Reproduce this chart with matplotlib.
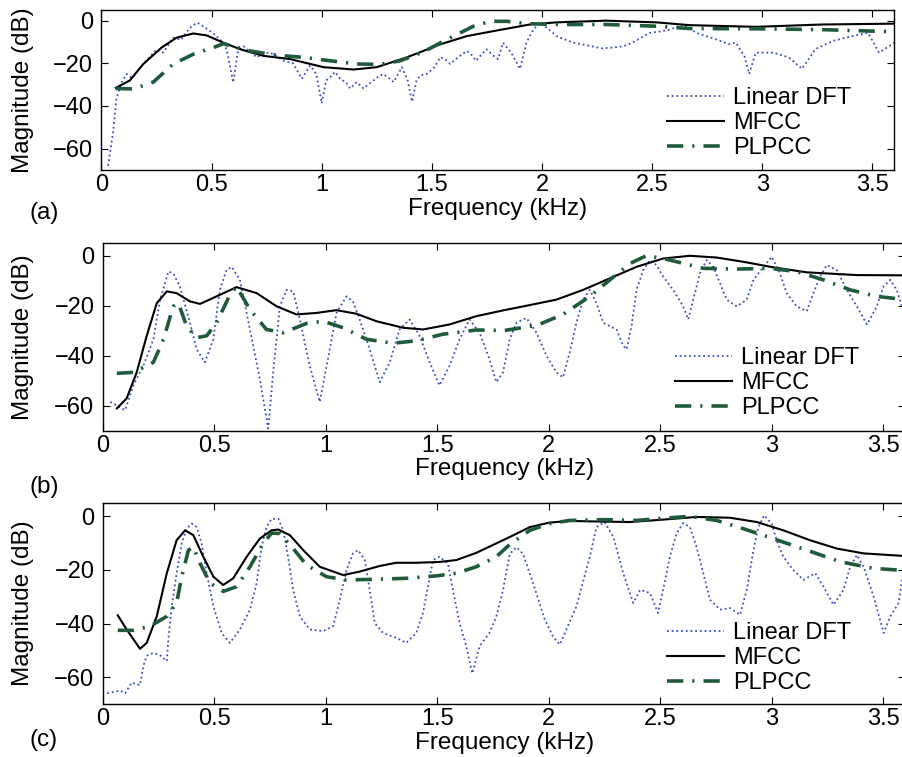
import matplotlib
matplotlib.use("Agg")
import matplotlib.pyplot as plt

plt.rcParams['font.family'] = ['Liberation Sans', 'DejaVu Sans']

# ---------------- Panel (a) ----------------
a_dft_f = [0.03, 0.053, 0.068, 0.09, 0.114, 0.14, 0.174, 0.21, 0.25, 0.28, 0.326, 0.36, 0.40, 0.432,
           0.447, 0.48, 0.508, 0.55, 0.568, 0.598, 0.62, 0.644, 0.68, 0.705, 0.735, 0.765, 0.80, 0.826,
           0.87, 0.909, 0.947, 0.975, 1.0, 1.02, 1.038, 1.06, 1.083, 1.11, 1.129, 1.159, 1.189, 1.21,
           1.235, 1.26, 1.28, 1.305, 1.326, 1.364, 1.39, 1.41, 1.43, 1.447, 1.477, 1.51, 1.538, 1.56,
           1.583, 1.62, 1.659, 1.68, 1.7, 1.747, 1.78, 1.8, 1.823, 1.86, 1.9, 1.93, 1.96, 1.99, 2.03,
           2.065, 2.14, 2.216, 2.27, 2.32, 2.37, 2.41, 2.45, 2.49, 2.54, 2.58, 2.64, 2.7, 2.79, 2.85,
           2.88, 2.92, 2.94, 2.97, 3.05, 3.12, 3.18, 3.24, 3.32, 3.41, 3.48, 3.53, 3.6]
a_dft_db = [-68, -52, -36.5, -29, -25, -27, -22, -18, -13.5, -15, -8, -9, -3.5, -1,
            -1.5, -4, -6, -10, -13.5, -29, -14, -12, -15, -17.2, -15.5, -15, -17, -18.8,
            -20, -27.2, -21, -25, -38.8, -28, -26.5, -24, -27.2, -29, -31.8, -28.8, -31.8, -30,
            -28, -26, -25, -27, -28.8, -21.8, -28, -38, -28, -25.7, -25, -22, -17.2, -18,
            -20.3, -17, -14.2, -16, -18.8, -13.4, -16.5, -18, -10.3, -15, -22.6, -10, -4.2, -1, -4,
            -7.2, -10.3, -11.8, -13, -12.6, -12, -10.3, -8, -5.7, -5, -4.2, -1.8, -5.7, -8.8, -11,
            -10.3, -17, -25, -15, -15, -17.2, -22.6, -13.4, -9.5, -7.2, -5.7, -15, -10.3]

a_mfcc_f = [0.065, 0.129, 0.19, 0.273, 0.34, 0.417, 0.477, 0.553, 0.63, 0.735, 0.856, 1.008, 1.144,
            1.25, 1.386, 1.538, 1.66, 1.80, 1.944, 2.065, 2.29, 2.52, 2.67, 2.97, 3.27, 3.6]
a_mfcc_db = [-31.5, -28, -20.3, -12.6, -8, -6, -6.9, -10.3, -13.4, -16.5, -18, -21.8, -22.9,
             -21.8, -17.2, -11.1, -7.2, -4.5, -1.8, -0.8, 0, -0.8, -2.1, -2.9, -1.8, -1.4]

a_plp_f = [0.065, 0.144, 0.235, 0.326, 0.417, 0.508, 0.553, 0.674, 0.795, 0.917, 1.038, 1.159, 1.265,
           1.356, 1.462, 1.568, 1.689, 1.765, 1.84, 1.93, 2.065, 2.29, 2.52, 2.67, 2.97, 3.27, 3.6]
a_plp_db = [-31.8, -32, -28.8, -20.3, -15.7, -12.6, -10.8, -14.2, -16.2, -17.2, -18.8, -20.3, -20.5,
            -18.8, -14.6, -8.8, -2.6, -0.3, -0.3, -1.4, -1.8, -1.8, -2.6, -3.7, -3.8, -4.2, -5.2]

# ---------------- Panel (b) ----------------
b_dft_f = [0.033, 0.1, 0.137, 0.182, 0.227, 0.257, 0.294, 0.316, 0.346, 0.391, 0.421, 0.458, 0.496,
           0.525, 0.555, 0.578, 0.615, 0.66, 0.704, 0.742, 0.764, 0.794, 0.824, 0.854, 0.884, 0.928,
           0.973, 1.018, 1.048, 1.093, 1.122, 1.152, 1.197, 1.242, 1.287, 1.331, 1.376, 1.421, 1.466,
           1.51, 1.555, 1.6, 1.645, 1.69, 1.734, 1.765, 1.795, 1.825, 1.855, 1.9, 1.945, 1.99, 2.034,
           2.064, 2.094, 2.124, 2.154, 2.184, 2.214, 2.244, 2.274, 2.304, 2.334, 2.349, 2.371, 2.394,
           2.424, 2.454, 2.483, 2.513, 2.558, 2.603, 2.626, 2.648, 2.678, 2.708, 2.738, 2.768, 2.798,
           2.843, 2.888, 2.918, 2.963, 3.0, 3.037, 3.067, 3.112, 3.157, 3.187, 3.217, 3.247, 3.292,
           3.337, 3.382, 3.427, 3.471, 3.501, 3.531, 3.561, 3.6]
b_dft_db = [-58.4, -61.7, -51.8, -44, -33.4, -17.6, -6.4, -7.1, -12.4, -26.8, -37.4, -42.6, -33.4,
            -13.7, -5.8, -4.5, -9.7, -29.5, -49.2, -69, -46.6, -20.3, -13.7, -14.3, -25.5, -44,
            -58.4, -37.4, -22.9, -16.3, -18.3, -25.5, -37.4, -50.5, -42.6, -29.5, -25.5, -32.1, -42.6,
            -51.8, -44, -33.4, -25.5, -30.8, -41.3, -50.5, -46.6, -33.4, -26.8, -24.9, -30.8, -40, -46.6,
            -48.6, -38.7, -26.8, -17.6, -13.7, -18.9, -26.8, -28.2, -29.5, -36, -37.4, -28.2, -13.7,
            -5.8, -1.8, -3.8, -8.4, -13.7, -20.3, -25.5, -17.6, -7.1, -1.8, -4.5, -11, -17.6,
            -20.3, -17.6, -9.7, -4.5, -0.5, -7.1, -15, -20.3, -22.2, -15, -8.4, -3.8, -5.8,
            -13.7, -20.3, -27.5, -20.3, -12.4, -9.7, -13.7, -25]

b_mfcc_f = [0.063, 0.107, 0.152, 0.197, 0.242, 0.287, 0.331, 0.391, 0.436, 0.51, 0.6, 0.69, 0.78,
            0.869, 0.958, 1.048, 1.137, 1.227, 1.346, 1.436, 1.555, 1.675, 1.80, 1.885, 2.034, 2.154,
            2.274, 2.394, 2.513, 2.633, 2.753, 2.873, 3.007, 3.157, 3.382, 3.6]
b_mfcc_db = [-61, -57, -46.6, -32, -19, -14.3, -15, -18.3, -19.3, -16.3, -12.6, -15, -20.3,
             -23.5, -22.9, -21.8, -23.2, -26.2, -28.8, -29.5, -27.5, -24.2, -21.8, -20.3, -17.6, -13.7,
             -9.1, -4.5, -1.2, -0.1, -0.8, -2.5, -4.7, -6.7, -7.8, -7.9]

b_plp_f = [0.063, 0.137, 0.227, 0.272, 0.316, 0.339, 0.376, 0.421, 0.466, 0.51, 0.57, 0.6, 0.66,
           0.734, 0.809, 0.913, 0.988, 1.078, 1.182, 1.301, 1.406, 1.525, 1.675, 1.80, 1.945, 2.064,
           2.184, 2.274, 2.364, 2.439, 2.543, 2.693, 2.843, 2.993, 3.112, 3.232, 3.352, 3.471, 3.6]
b_plp_db = [-47, -46.6, -42.6, -33.4, -20.3, -19, -28.2, -32.8, -32, -26.8, -15.7, -12.4, -21.6,
            -29.5, -30.8, -27.1, -26.2, -28.8, -33.4, -35, -34, -31.4, -29.7, -29.9, -27.9, -23.5,
            -16.3, -9.7, -3.2, 0, -1.8, -5.1, -5.4, -5.1, -6.4, -9.7, -13.7, -16.3, -17.6]

# ---------------- Panel (c) ----------------
c_dft_f = [0.02, 0.078, 0.1, 0.13, 0.167, 0.182, 0.197, 0.227, 0.26, 0.287, 0.294, 0.309, 0.331,
           0.354, 0.376, 0.399, 0.421, 0.443, 0.466, 0.496, 0.533, 0.57, 0.615, 0.66, 0.69, 0.712,
           0.734, 0.757, 0.787, 0.809, 0.831, 0.854, 0.884, 0.928, 0.988, 1.033, 1.063, 1.093, 1.122,
           1.145, 1.175, 1.197, 1.22, 1.257, 1.316, 1.361, 1.406, 1.436, 1.458, 1.481, 1.51, 1.548,
           1.57, 1.6, 1.63, 1.657, 1.69, 1.734, 1.765, 1.795, 1.825, 1.855, 1.885, 1.93, 1.98, 2.02,
           2.05, 2.124, 2.184, 2.214, 2.25, 2.29, 2.334, 2.379, 2.41, 2.454, 2.49, 2.513, 2.543,
           2.573, 2.603, 2.633, 2.663, 2.693, 2.723, 2.768, 2.813, 2.858, 2.888, 2.918, 2.94, 2.966,
           3.0, 3.022, 3.052, 3.097, 3.142, 3.195, 3.232, 3.277, 3.322, 3.352, 3.382, 3.412, 3.457,
           3.502, 3.532, 3.569, 3.6]
c_dft_db = [-66, -65, -66, -62, -63, -55.8, -52, -50.9, -52, -54, -45.9, -33.6, -21.2,
            -10.1, -4.6, -2.7, -4, -10.1, -21.2, -33.6, -43.5, -47.2, -42.2, -34.8, -24.9, -11.4,
            -4, -0.9, -0.9, -5.2, -15.1, -27.4, -37.3, -42.2, -42.8, -41, -31.1, -20, -13.8,
            -12.6, -16.3, -27.4, -39.8, -43.5, -45.3, -47.2, -43.5, -36, -26.2, -16.3, -15.1, -17.5,
            -27.4, -39.8, -48.4, -58.6, -48.4, -43.5, -37.3, -27.4, -14, -11.5, -14, -25, -38, -45,
            -47.8, -33.6, -15.1, -4, -2.1, -7.7, -21.2, -32.3, -27.4, -28.6, -36, -27.4, -15.1,
            -6.4, -2.5, -4, -11.4, -21.2, -31.1, -34.8, -34.2, -36.7, -27.4, -12.6, -4, 0.4,
            -2.7, -8.9, -15.1, -20, -23.7, -21.2, -26.2, -33, -27.4, -18.8, -14.4, -18.8, -29.9,
            -43.5, -37.3, -32.3, -15]

c_mfcc_f = [0.067, 0.107, 0.167, 0.197, 0.242, 0.287, 0.331, 0.369, 0.406, 0.451, 0.496, 0.54,
            0.585, 0.645, 0.704, 0.757, 0.787, 0.839, 0.899, 0.973, 1.078, 1.152, 1.242, 1.316,
            1.406, 1.51, 1.585, 1.675, 1.764, 1.825, 1.915, 2.004, 2.094, 2.214, 2.364, 2.513,
            2.663, 2.813, 2.933, 3.052, 3.172, 3.292, 3.412, 3.6]
c_mfcc_db = [-36.9, -42.2, -49.4, -47.2, -37.3, -21.2, -8.9, -5.2, -7, -15.1, -22.5, -25.6,
             -23.1, -15.1, -8.3, -5.2, -4.9, -7, -12.6, -18.8, -21.9, -20.6, -18.5, -17.3,
             -17.3, -17, -16.3, -13.6, -10.1, -7.7, -4, -2.3, -1.7, -1.9, -2.1, -1.2,
             -0.2, -0.5, -2.1, -5.2, -8.9, -12, -13.8, -14.8]

c_plp_f = [0.067, 0.137, 0.212, 0.287, 0.331, 0.354, 0.384, 0.406, 0.436, 0.481, 0.54, 0.6, 0.66,
           0.719, 0.757, 0.794, 0.854, 0.913, 1.003, 1.093, 1.212, 1.361, 1.496, 1.585, 1.675, 1.764,
           1.825, 1.915, 2.004, 2.094, 2.244, 2.394, 2.543, 2.633, 2.753, 2.873, 3.007, 3.157, 3.307,
           3.457, 3.6]
c_plp_db = [-42.5, -42.5, -41, -37.3, -32.3, -22.5, -12.6, -11.4, -17.5, -24.9, -28, -26.2, -18.8,
            -10.1, -6.2, -6.4, -12, -18.1, -22.5, -23.7, -23.5, -23.1, -22.2, -21.2, -18.8, -15.1,
            -10.5, -5.2, -2.7, -1.5, -1.2, -1.5, -0.5, 0, -1.5, -4.6, -8.3, -12.6, -16.9, -19.4, -20.2]

panel_tags = ['(a)', '(b)', '(c)']
legend_labels = ['Linear DFT', 'MFCC', 'PLPCC']
x_ticks = [0, 0.5, 1, 1.5, 2, 2.5, 3, 3.5]
x_ticklabels = ['0', '0.5', '1', '1.5', '2', '2.5', '3', '3.5']
y_ticks = [-60, -40, -20, 0]

W, H = 903, 757
fig = plt.figure(figsize=(W / 100, H / 100), dpi=100)

# axes boxes in pixels: left, top, right, bottom
boxes = [(101.5, 10, 894.5, 170), (102.8, 243, 905.5, 431), (102.8, 503, 905.5, 704)]
leg_anchor = [(667, 123), (675, 383), (667, 658)]
xlabel_y = [209, 469, 743]
tag_y = [213, 487, 740]

data = [
    (a_dft_f, a_dft_db, a_mfcc_f, a_mfcc_db, a_plp_f, a_plp_db),
    (b_dft_f, b_dft_db, b_mfcc_f, b_mfcc_db, b_plp_f, b_plp_db),
    (c_dft_f, c_dft_db, c_mfcc_f, c_mfcc_db, c_plp_f, c_plp_db),
]

FS_TICK = 17
FS_LAB = 17.5
FS_LEG = 17

for i, (box, d) in enumerate(zip(boxes, data)):
    l, t, r, b = box
    ax = fig.add_axes([l / W, 1 - b / H, (r - l) / W, (b - t) / H])
    ax.plot(d[0], d[1], linestyle=(0, (1.0, 1.6)), color='#3a4ec6', lw=1.3, label=legend_labels[0])
    ax.plot(d[2], d[3], '-', color='black', lw=1.5, label=legend_labels[1])
    ax.plot(d[4], d[5], linestyle=(0, (4.5, 2.5, 0.6, 2.5)), color='#1f5a3a', lw=2.6,
            label=legend_labels[2])
    ax.set_xlim(0, 3.6)
    ax.set_ylim(-70, 5)
    ax.set_xticks(x_ticks)
    ax.set_xticklabels(x_ticklabels)
    ax.set_yticks(y_ticks)
    ax.tick_params(direction='in', top=True, right=True, length=5, width=0.8,
                   labelsize=FS_TICK)
    ax.tick_params(axis='y', pad=6)
    ax.tick_params(axis='x', pad=3)
    for sp in ax.spines.values():
        sp.set_linewidth(1.0)
    fig.text((l + r) / 2 / W, 1 - xlabel_y[i] / H, 'Frequency (kHz)', fontsize=FS_LAB,
             ha='center', va='center')
    fig.text(23 / W, 1 - (t + b) / 2 / H, 'Magnitude (dB)', fontsize=FS_LAB, rotation=90,
             ha='center', va='center')
    fig.text(44 / W, 1 - tag_y[i] / H, panel_tags[i], fontsize=FS_LAB, ha='center', va='center')
    lx, ly = leg_anchor[i]
    ax.legend(loc='center left', bbox_to_anchor=(lx / W, 1 - ly / H), bbox_transform=fig.transFigure,
              frameon=False, fontsize=FS_LEG, borderpad=0, borderaxespad=0, handlelength=2.4,
              handletextpad=0.4, labelspacing=0.12)

fig.savefig('out.png', dpi=100)
